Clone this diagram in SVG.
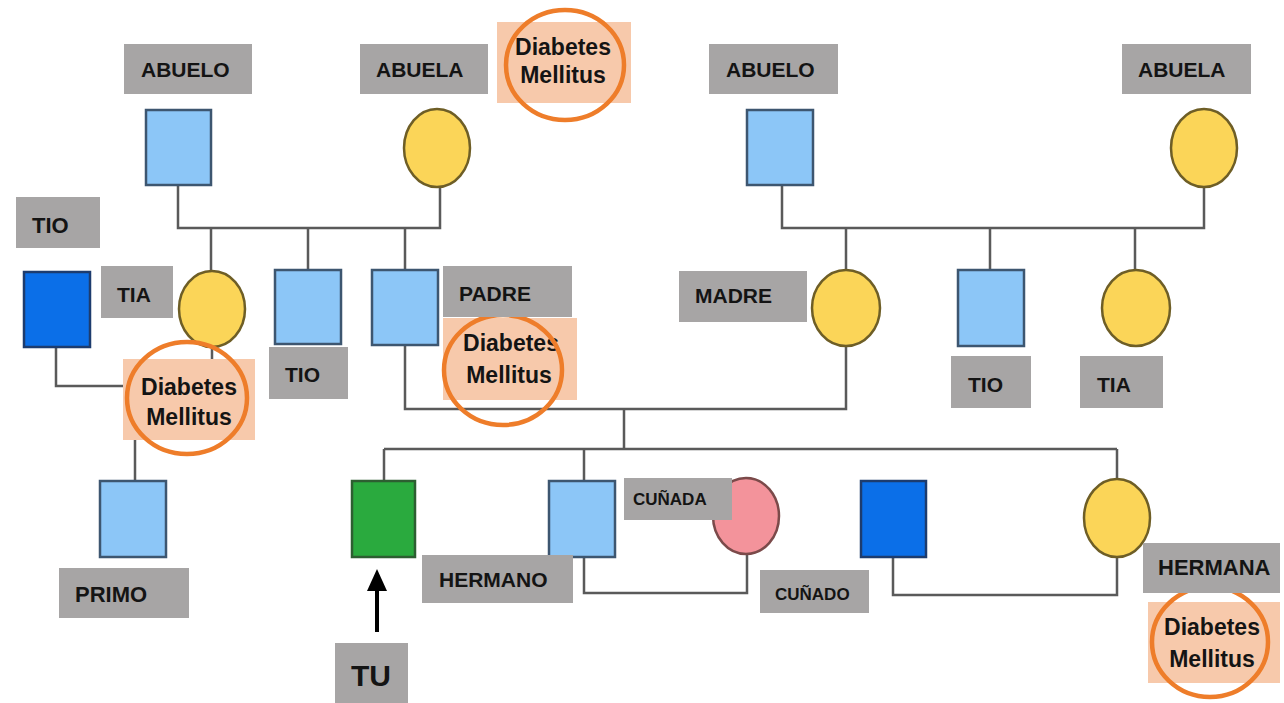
<svg xmlns="http://www.w3.org/2000/svg" width="1284" height="703" viewBox="0 0 1284 703">
<defs>
<style>
.bg{fill:#ffffff}
.con{fill:none;stroke:#5a5a5a;stroke-width:2.5}
.m{fill:#8cc6f7;stroke:#3d5670;stroke-width:2.5}
.md{fill:#0b6fe8;stroke:#1d3c6e;stroke-width:2.5}
.mg{fill:#2aaa3e;stroke:#2d5e31;stroke-width:2.5}
.f{fill:#fbd558;stroke:#6e5e26;stroke-width:2.5}
.fp{fill:#f3939b;stroke:#7b4a4a;stroke-width:2.5}
.lb{fill:#a7a5a5}
.lt{font-family:"Liberation Sans",Arial,sans-serif;font-weight:bold;font-size:21px;fill:#141414}
.sm{font-size:17px}
.pk{fill:#f7c9ab}
.ring{fill:none;stroke:#ee7d2a;stroke-width:4.5}
.dt{font-family:"Liberation Sans",Arial,sans-serif;font-weight:bold;font-size:23px;fill:#141414;text-anchor:middle}
</style>
</defs>
<rect class="bg" x="0" y="0" width="1284" height="703"/>

<g id="connectors">
<path class="con" d="M178,185 V228 H440 V187"/>
<path class="con" d="M211,228 V271 M308,228 V270 M405,228 V270"/>
<path class="con" d="M782,185 V228 H1204 V187"/>
<path class="con" d="M846,228 V270 M990,228 V270 M1135,228 V270"/>
<path class="con" d="M56,347 V386 H212 V347 M135,386 V481"/>
<path class="con" d="M405,345 V409 H846 V346 M624,409 V449"/>
<path class="con" d="M384,449 H1117 M384,449 V481 M584,449 V481 M1117,449 V479"/>
<path class="con" d="M584,557 V593 H747 V554"/>
<path class="con" d="M893,557 V595 H1117 V557"/>
</g>

<g id="abuelo-p"><rect class="m" x="146" y="110" width="65" height="75"/></g>
<g id="abuela-p"><ellipse class="f" cx="437" cy="148" rx="33" ry="39"/></g>
<g id="abuelo-m"><rect class="m" x="747" y="110" width="66" height="75"/></g>
<g id="abuela-m"><ellipse class="f" cx="1204" cy="148" rx="33" ry="39"/></g>
<g id="tio-politico"><rect class="md" x="24" y="272" width="66" height="75"/></g>
<g id="tia-p"><ellipse class="f" cx="212" cy="309" rx="33" ry="38"/></g>
<g id="tio-p"><rect class="m" x="275" y="270" width="66" height="74"/></g>
<g id="padre"><rect class="m" x="372" y="270" width="66" height="75"/></g>
<g id="madre"><ellipse class="f" cx="846" cy="308" rx="34" ry="38"/></g>
<g id="tio-m"><rect class="m" x="958" y="270" width="66" height="76"/></g>
<g id="tia-m"><ellipse class="f" cx="1136" cy="308" rx="34" ry="38"/></g>
<g id="primo"><rect class="m" x="100" y="481" width="66" height="76"/></g>
<g id="tu"><rect class="mg" x="352" y="481" width="63" height="76"/></g>
<g id="hermano"><rect class="m" x="549" y="481" width="66" height="76"/></g>
<g id="cunada"><ellipse class="fp" cx="746" cy="516" rx="33" ry="38"/></g>
<g id="cunado"><rect class="md" x="861" y="481" width="65" height="76"/></g>
<g id="hermana"><ellipse class="f" cx="1117" cy="518" rx="33" ry="39"/></g>

<g id="arrow">
<line x1="377" y1="632" x2="377" y2="586" stroke="#000" stroke-width="4"/>
<polygon points="377,569 367,591 387,591" fill="#000"/>
</g>

<g id="dm-abuela">
<rect class="pk" x="497" y="22" width="134" height="81"/>
<text class="dt" x="563" y="55">Diabetes</text>
<text class="dt" x="563" y="83">Mellitus</text>
<ellipse class="ring" cx="565" cy="65" rx="59" ry="55"/>
</g>
<g id="dm-tia">
<rect class="pk" x="123" y="359" width="132" height="81"/>
<text class="dt" x="189" y="395">Diabetes</text>
<text class="dt" x="189" y="425">Mellitus</text>
<ellipse class="ring" cx="187" cy="398" rx="60" ry="56"/>
</g>
<g id="dm-padre">
<rect class="pk" x="443" y="318" width="134" height="82"/>
<text class="dt" x="511" y="351">Diabetes</text>
<text class="dt" x="509" y="383">Mellitus</text>
<ellipse class="ring" cx="503" cy="370" rx="59" ry="55"/>
</g>
<g id="dm-hermana">
<rect class="pk" x="1148" y="602" width="132" height="81"/>
<text class="dt" x="1212" y="635">Diabetes</text>
<text class="dt" x="1212" y="667">Mellitus</text>
<ellipse class="ring" cx="1210" cy="642" rx="58" ry="55"/>
</g>

<g id="labels">
<rect class="lb" x="124" y="44" width="128" height="50"/><text class="lt" x="141" y="77">ABUELO</text>
<rect class="lb" x="360" y="44" width="128" height="50"/><text class="lt" x="376" y="77">ABUELA</text>
<rect class="lb" x="709" y="44" width="129" height="50"/><text class="lt" x="726" y="77">ABUELO</text>
<rect class="lb" x="1122" y="44" width="129" height="50"/><text class="lt" x="1138" y="77">ABUELA</text>
<rect class="lb" x="16" y="197" width="84" height="51"/><text class="lt" x="32" y="233" style="font-size:22px">TIO</text>
<rect class="lb" x="101" y="266" width="72" height="52"/><text class="lt" x="117" y="302">TIA</text>
<rect class="lb" x="269" y="347" width="79" height="52"/><text class="lt" x="285" y="382">TIO</text>
<rect class="lb" x="443" y="266" width="129" height="51"/><text class="lt" x="459" y="301">PADRE</text>
<rect class="lb" x="679" y="271" width="128" height="51"/><text class="lt" x="695" y="303">MADRE</text>
<rect class="lb" x="951" y="356" width="80" height="52"/><text class="lt" x="968" y="392">TIO</text>
<rect class="lb" x="1080" y="356" width="83" height="52"/><text class="lt" x="1097" y="392">TIA</text>
<rect class="lb" x="59" y="568" width="130" height="50"/><text class="lt" x="75" y="602" style="font-size:22px">PRIMO</text>
<rect class="lb" x="422" y="555" width="151" height="48"/><text class="lt" x="439" y="587">HERMANO</text>
<rect class="lb" x="335" y="643" width="73" height="60"/><text class="lt" x="351" y="686" style="font-size:30px">TU</text>
<rect class="lb" x="624" y="478" width="108" height="42"/><text class="lt sm" x="633" y="505">CUÑADA</text>
<rect class="lb" x="760" y="570" width="109" height="43"/><text class="lt sm" x="775" y="600">CUÑADO</text>
<rect class="lb" x="1143" y="543" width="137" height="50"/><text class="lt" x="1158" y="575" style="font-size:22px">HERMANA</text>
</g>
</svg>
